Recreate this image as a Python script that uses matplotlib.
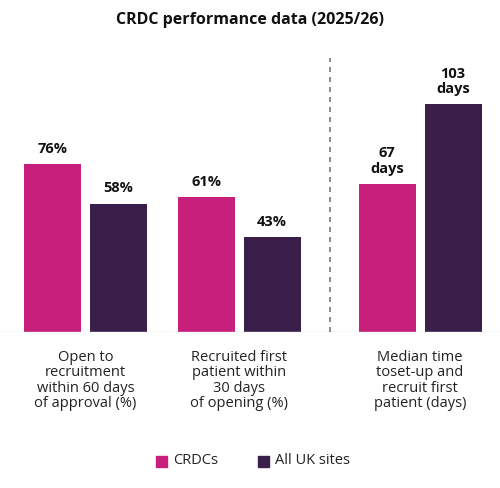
import matplotlib
matplotlib.use("Agg")
import matplotlib.pyplot as plt
from matplotlib.patches import Rectangle

categories = ["Open to\nrecruitment\nwithin 60 days\nof approval (%)",
              "Recruited first\npatient within\n30 days\nof opening (%)",
              "Median time\ntoset-up and\nrecruit first\npatient (days)"]
crdc = [76, 61, 67]
uk = [58, 43, 103]
labels_crdc = ["76%", "61%", "67\ndays"]
labels_uk = ["58%", "43%", "103\ndays"]
series = ["CRDCs", "All UK sites"]

PINK = "#C81F7C"
DARK = "#3B1F4B"
plt.rcParams['font.family'] = ['Open Sans', 'DejaVu Sans']

fig = plt.figure(figsize=(5, 4.88), dpi=100)
ax = fig.add_axes([0, (488 - 332) / 488, 1, 265 / 488])
ax.set_xlim(0, 500)
ax.set_ylim(0, 265 / 2.21)
ax.axis("off")

centers = [85.5, 239, 420]
off = 33
w = 57
for i in range(3):
    b1 = ax.bar(centers[i] - off, crdc[i], w, color=PINK)
    b2 = ax.bar(centers[i] + off, uk[i], w, color=DARK)
    for v, lab, x in [(crdc[i], labels_crdc[i], centers[i] - off), (uk[i], labels_uk[i], centers[i] + off)]:
        ax.annotate(lab, (x, v), xytext=(0, 6), textcoords="offset points",
                    ha="center", va="bottom", fontsize=10.5, fontweight="bold",
                    linespacing=1.1, color="#111111")
    ax.text(centers[i], -8, categories[i], ha="center", va="top", fontsize=10.5,
            linespacing=1.05, color="#222222", clip_on=False)

ax.axhline(0, xmin=0.0, xmax=1.0, color="#dddddd", lw=1)
ax.plot([330, 330], [0, (332 - 58) / 2.21], ls=(0, (3, 3)), color="#777777", lw=1.2, clip_on=False)

fig.text(0.5, 1 - 20 / 488, "CRDC performance data (2025/26)", ha="center", va="center",
         fontsize=11.5, fontweight="bold", color="#111111")

# legend
for x0, col, lab in [(156, PINK, series[0]), (258, DARK, series[1])]:
    fig.patches.append(Rectangle((x0 / 500, 1 - 467 / 488), 11 / 500, 11 / 488,
                                 transform=fig.transFigure, color=col))
    fig.text((x0 + 17) / 500, 1 - 461 / 488, lab, ha="left", va="center", fontsize=10.5, color="#222222")

fig.savefig("out.png", dpi=100)
